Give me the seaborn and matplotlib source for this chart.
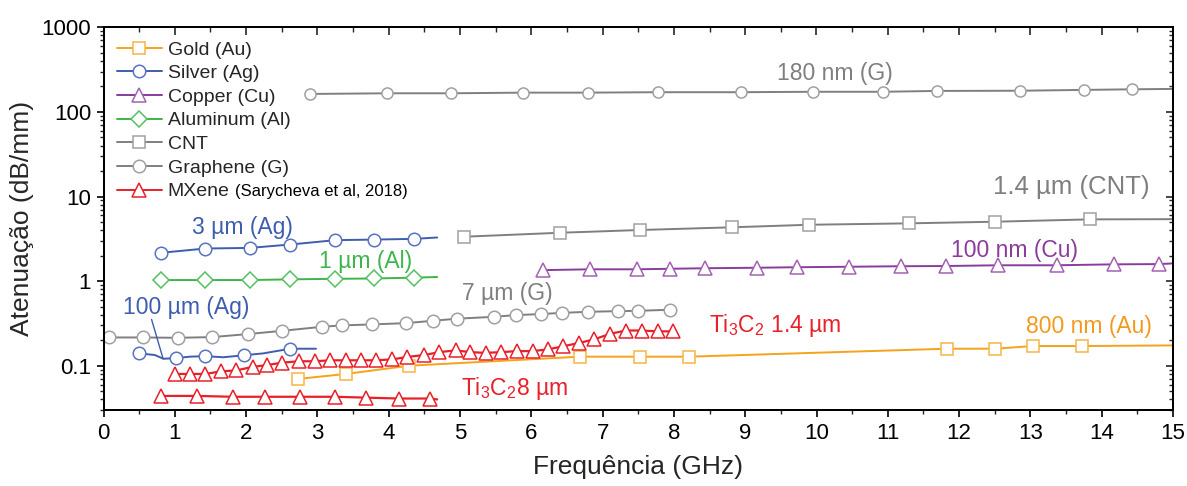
import matplotlib
matplotlib.use("Agg")
import matplotlib.pyplot as plt
from matplotlib.lines import Line2D
from matplotlib.ticker import FixedLocator, FixedFormatter, LogLocator, NullFormatter, MultipleLocator
import seaborn as sns
import pandas as pd

# ---------------- data ----------------
gold_x = [2.73, 3.40, 4.28, 6.68, 7.52, 8.21, 11.83, 12.51, 13.03, 13.72, 15.0]
gold_y = [0.070, 0.080, 0.100, 0.128, 0.128, 0.128, 0.159, 0.159, 0.171, 0.171, 0.174]

silver3_x = [0.80, 1.43, 2.05, 2.62, 3.25, 3.80, 4.36, 4.68]
silver3_y = [2.16, 2.43, 2.47, 2.71, 3.05, 3.10, 3.16, 3.28]

silver100_x = [0.50, 0.72, 0.84, 1.01, 1.21, 1.42, 1.68, 1.97, 2.24, 2.62, 2.98]
silver100_y = [0.140, 0.134, 0.121, 0.123, 0.128, 0.130, 0.126, 0.133, 0.140, 0.159, 0.159]
silver100_marks = [0, 3, 5, 7, 9]

copper_x = [6.17, 6.82, 7.48, 7.94, 8.43, 9.16, 9.72, 10.46, 11.18, 11.82, 12.55, 13.37, 14.17, 14.80, 15.0]
copper_y = [1.35, 1.38, 1.38, 1.40, 1.42, 1.44, 1.46, 1.48, 1.50, 1.51, 1.54, 1.54, 1.58, 1.59, 1.62]

al_x = [0.80, 1.43, 2.05, 2.62, 3.25, 3.80, 4.36, 4.68]
al_y = [1.03, 1.03, 1.03, 1.05, 1.065, 1.075, 1.10, 1.12]

cnt_x = [5.06, 6.40, 7.52, 8.82, 9.90, 11.30, 12.51, 13.83, 15.0]
cnt_y = [3.35, 3.73, 4.02, 4.33, 4.64, 4.82, 5.04, 5.37, 5.40]

g180_x = [2.89, 3.97, 4.88, 5.89, 6.79, 7.78, 8.94, 9.95, 10.93, 11.69, 12.85, 13.75, 14.42, 15.0]
g180_y = [163, 166, 166, 169, 169, 171, 171, 173, 173, 177, 178, 182, 185, 187]

g7_x = [0.08, 0.55, 1.04, 1.52, 2.03, 2.51, 3.07, 3.35, 3.77, 4.24, 4.62, 4.96,
        5.48, 5.78, 6.13, 6.43, 6.79, 7.21, 7.50, 7.94]
g7_y = [0.216, 0.216, 0.214, 0.218, 0.237, 0.259, 0.289, 0.300, 0.308, 0.319, 0.340, 0.360,
        0.379, 0.397, 0.408, 0.422, 0.434, 0.442, 0.446, 0.459]

mx14_x = [1.00, 1.21, 1.43, 1.65, 1.86, 2.09, 2.30, 2.51, 2.74, 2.96, 3.18, 3.40, 3.61, 3.82,
          4.05, 4.26, 4.50, 4.71, 4.94, 5.14, 5.36, 5.58, 5.80, 6.02, 6.23, 6.45, 6.67, 6.88,
          7.11, 7.33, 7.55, 7.77, 7.99]
mx14_y = [0.080, 0.080, 0.080, 0.086, 0.088, 0.097, 0.102, 0.109, 0.113, 0.113, 0.116, 0.116,
          0.116, 0.116, 0.119, 0.127, 0.134, 0.145, 0.152, 0.145, 0.142, 0.145, 0.149, 0.149,
          0.156, 0.170, 0.186, 0.205, 0.239, 0.261, 0.261, 0.255, 0.255]

mx8_x = [0.80, 1.31, 1.82, 2.27, 2.76, 3.25, 3.68, 4.14, 4.58, 4.68]
mx8_y = [0.044, 0.044, 0.043, 0.043, 0.043, 0.043, 0.042, 0.041, 0.041, 0.040]

legend_labels = ["Gold (Au)", "Silver (Ag)", "Copper (Cu)", "Aluminum (Al)", "CNT",
                 "Graphene (G)", "MXene"]
x_ticks = list(range(0, 16))
y_ticks = [0.1, 1, 10, 100, 1000]
y_ticklabels = ["0.1", "1", "10", "100", "1000"]

# ---------------- style ----------------
sns.set_theme(style="ticks")
plt.rcParams["font.family"] = ["Liberation Sans", "DejaVu Sans"]
plt.rcParams["mathtext.default"] = "regular"

C_GOLD = "#F5A31A"
C_SILVER = "#3F5DB0"
C_COPPER = "#8A3C9C"
C_AL = "#3DB54A"
C_GRAY = "#7F7F7F"
C_RED = "#E8202A"

W, H = 1187, 486
fig = plt.figure(figsize=(W / 100, H / 100), dpi=100)
ax = fig.add_axes([103.5 / W, 1 - 410 / H, (1173 - 103.5) / W, (410 - 27.3) / H])


def series(x, y, color, marker, ms=8.5, mec=None, lw=1.4, marks=None, last_nomark=False):
    df = pd.DataFrame({"x": x, "y": y})
    if marks is None:
        marks = list(range(len(x) - 1)) if last_nomark else list(range(len(x)))
    sns.lineplot(data=df, x="x", y="y", ax=ax, color=color, lw=lw, sort=False,
                 estimator=None, marker=marker, markersize=ms, markerfacecolor="white",
                 markeredgecolor=mec or color, markeredgewidth=1.1, markevery=marks,
                 legend=False)


series(gold_x, gold_y, C_GOLD, "s", ms=8, mec="#F7B445",
       marks=[0, 1, 2, 3, 4, 5, 6, 7, 8, 9])
series(silver3_x, silver3_y, C_SILVER, "o", ms=9, mec="#5872C0", last_nomark=True)
series(silver100_x, silver100_y, C_SILVER, "o", ms=9, mec="#5872C0", marks=silver100_marks)
series(copper_x, copper_y, C_COPPER, "^", ms=9.5, mec="#A462B3", last_nomark=True)
series(al_x, al_y, C_AL, "D", ms=8, mec="#55C060", last_nomark=True)
series(cnt_x, cnt_y, C_GRAY, "s", ms=8, mec="#A0A0A0", last_nomark=True)
series(g180_x, g180_y, C_GRAY, "o", ms=8, mec="#A0A0A0", last_nomark=True)
series(g7_x, g7_y, C_GRAY, "o", ms=9, mec="#A0A0A0")
series(mx14_x, mx14_y, C_RED, "^", ms=10, lw=1.6)
series(mx8_x, mx8_y, C_RED, "^", ms=10, lw=1.6, last_nomark=True)

ax.set_yscale("log")
ax.set_xlim(0, 15)
ax.set_ylim(0.03, 1000)

ax.xaxis.set_major_locator(FixedLocator(x_ticks))
ax.xaxis.set_minor_locator(MultipleLocator(0.5))
ax.yaxis.set_major_locator(FixedLocator(y_ticks))
ax.yaxis.set_major_formatter(FixedFormatter(y_ticklabels))
ax.yaxis.set_minor_locator(LogLocator(base=10, subs=range(2, 10), numticks=20))
ax.yaxis.set_minor_formatter(NullFormatter())

for s in ax.spines.values():
    s.set_linewidth(1.3)
    s.set_color("black")
ax.tick_params(which="major", direction="out", length=5, width=1.2, labelsize=16,
               pad=4, colors="black")
ax.tick_params(which="minor", direction="out", length=3, width=1.0)

# mirrored inward ticks on top and right
axt = ax.twiny()
axt.set_xlim(ax.get_xlim())
axt.xaxis.set_major_locator(FixedLocator(x_ticks))
axt.xaxis.set_minor_locator(MultipleLocator(0.5))
axt.tick_params(axis="x", which="major", direction="in", length=6, width=1.2, labeltop=False)
axt.tick_params(axis="x", which="minor", direction="in", length=3.5, width=1.0)
axr = ax.twinx()
axr.set_yscale("log")
axr.set_ylim(ax.get_ylim())
axr.yaxis.set_major_locator(FixedLocator(y_ticks))
axr.yaxis.set_minor_locator(LogLocator(base=10, subs=range(2, 10), numticks=20))
axr.yaxis.set_minor_formatter(NullFormatter())
axr.tick_params(axis="y", which="major", direction="in", length=5, width=1.2, labelright=False)
axr.tick_params(axis="y", which="minor", direction="in", length=3, width=1.0)
for a in (axt, axr):
    for s in a.spines.values():
        s.set_linewidth(1.3)
        s.set_color("black")
    a.grid(False)

ax.set_xlabel("Frequência (GHz)", fontsize=19, labelpad=8)
ax.set_ylabel("Atenuação (dB/mm)", fontsize=19, labelpad=5)

# ---------------- annotations ----------------
ann = dict(fontsize=16.5, ha="center", va="center")
ax.text(10.26, 288, "180 nm (G)", color="#7F7F7F", **ann)
ax.text(13.57, 12.9, "1.4 µm (CNT)", color="#7F7F7F", fontsize=18.5, ha="center", va="center")
ax.text(12.78, 2.33, "100 nm (Cu)", color=C_COPPER, **ann)
ax.text(13.82, 0.294, "800 nm (Au)", color="#F39A1E", **ann)
ax.text(1.955, 4.32, "3 µm (Ag)", color=C_SILVER, **ann)
ax.text(3.67, 1.69, "1 µm (Al)", color=C_AL, **ann)
ax.text(1.164, 0.49, "100 µm (Ag)", color=C_SILVER, **ann)
ax.text(5.66, 0.718, "7 µm (G)", color="#7F7F7F", **ann)
ax.text(8.49, 0.30, r"Ti$_3$C$_2$ 1.4 µm", color=C_RED, fontsize=16.5, ha="left", va="center")
ax.text(5.01, 0.054, r"Ti$_3$C$_2$8 µm", color=C_RED, fontsize=16.5, ha="left", va="center")
ax.annotate("", xy=(0.836, 0.121), xytext=(0.674, 0.353),
            arrowprops=dict(arrowstyle="-", color=C_SILVER, lw=1.0, shrinkA=0, shrinkB=0))

# ---------------- legend ----------------
styles = [(C_GOLD, "s", "#F7B445", 8), (C_SILVER, "o", "#5872C0", 9),
          (C_COPPER, "^", "#A462B3", 9.5), (C_AL, "D", "#55C060", 8),
          (C_GRAY, "s", "#A0A0A0", 8), (C_GRAY, "o", "#A0A0A0", 9),
          (C_RED, "^", C_RED, 10)]
handles = [Line2D([], [], color=c, marker=m, markerfacecolor="white", markeredgecolor=e,
                  markersize=ms, markeredgewidth=1.1, lw=1.4)
           for (c, m, e, ms) in styles]
leg = ax.legend(handles, legend_labels, loc="upper left", bbox_to_anchor=(0.0, 1.0),
                frameon=False, fontsize=14, handlelength=2.3, handletextpad=0.3,
                labelspacing=0.31, borderpad=0.35, borderaxespad=0.35)

fig.canvas.draw()
renderer = fig.canvas.get_renderer()
bb = leg.get_texts()[-1].get_window_extent(renderer)
descent = 0.21 * 14 * 100 / 72
fig.text((bb.x1 + 5) / W, (bb.y0 + descent) / H, "(Sarycheva et al, 2018)",
         fontsize=12, ha="left", va="baseline", color="black")

fig.savefig("out.png", dpi=100)
